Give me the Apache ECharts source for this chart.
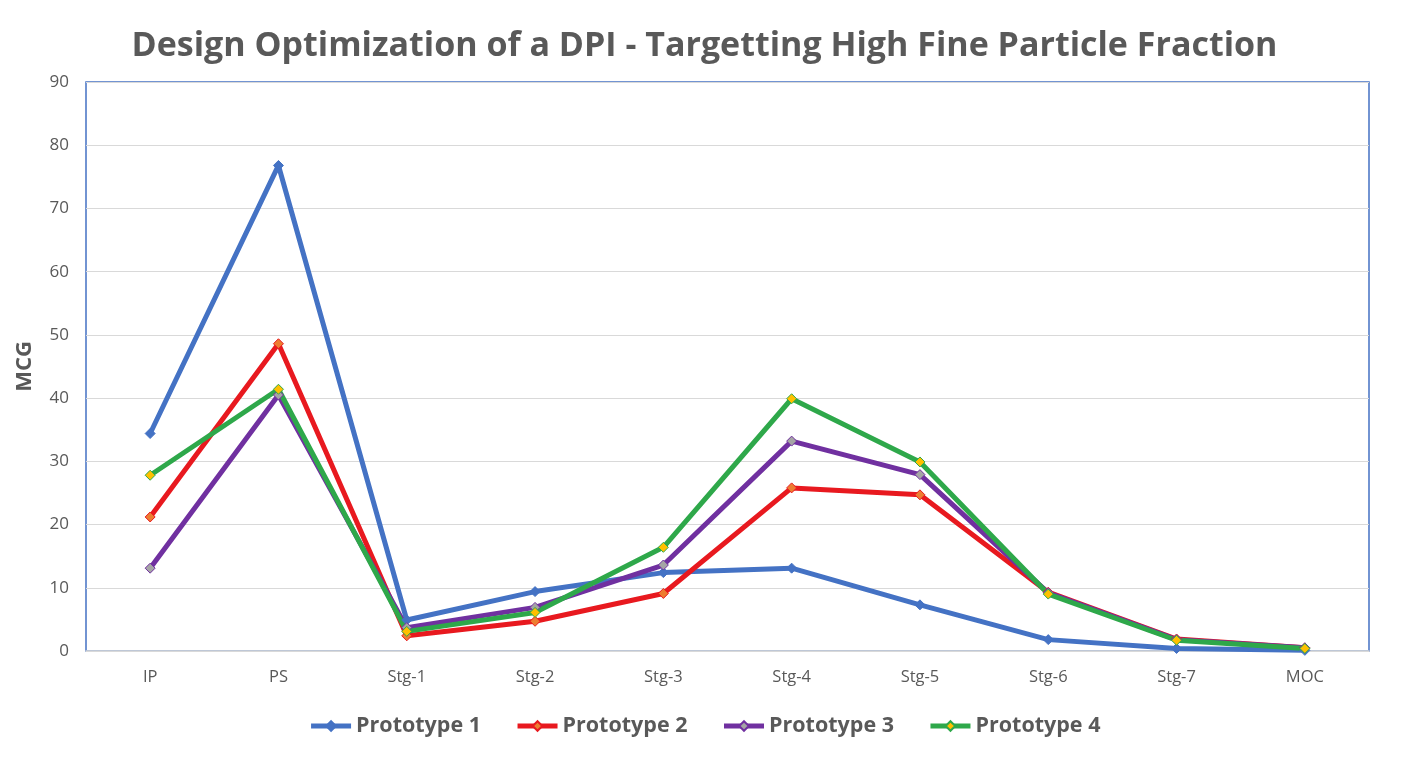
<!DOCTYPE html>
<html><head><meta charset="utf-8">
<script src="https://cdn.jsdelivr.net/npm/echarts@6/dist/echarts.min.js"></script>
<style>html,body{margin:0;padding:0;background:#fff}#c{width:1409px;height:764px}</style>
</head><body><div id="c"></div>
<script>
const categories = ['IP','PS','Stg-1','Stg-2','Stg-3','Stg-4','Stg-5','Stg-6','Stg-7','MOC'];
const prototype1 = [34.4, 76.8, 4.9, 9.4, 12.4, 13.1, 7.3, 1.8, 0.4, 0.1];
const prototype2 = [21.2, 48.6, 2.4, 4.7, 9.1, 25.8, 24.7, 9.3, 1.9, 0.5];
const prototype3 = [13.1, 40.5, 3.7, 6.9, 13.6, 33.2, 27.9, 9.2, 1.8, 0.5];
const prototype4 = [27.8, 41.4, 3.1, 6.1, 16.4, 39.9, 29.9, 9.0, 1.7, 0.4];
const yTicks = {min: 0, max: 90, interval: 10};

const chart = echarts.init(document.getElementById('c'));
function mk(name, data, lineColor, markColor) {
  return {
    name, type: 'line', data,
    symbol: 'diamond', symbolSize: 10,
    lineStyle: {color: lineColor, width: 5},
    itemStyle: {color: markColor, borderColor: lineColor, borderWidth: 1},
    color: lineColor,
    emphasis: {disabled: true}
  };
}
chart.setOption({
  animation: false,
  title: {
    text: 'Design Optimization of a DPI - Targetting High Fine Particle Fraction',
    left: 'center', top: 24,
    textStyle: {fontFamily: 'Open Sans', fontWeight: 'bold', fontSize: 34, color: '#595959'}
  },
  legend: {
    bottom: 22, left: 'center', itemWidth: 40, itemHeight: 12, itemGap: 34,
    lineStyle: {width: 5},
    textStyle: {fontFamily: 'Open Sans', fontWeight: 'bold', fontSize: 21.5, color: '#595959'}
  },
  grid: {left: 86, right: 40, top: 82, bottom: 113, show: true, borderColor: '#4472C4', borderWidth: 1.5},
  xAxis: {
    type: 'category', data: categories, boundaryGap: true,
    axisLine: {lineStyle: {color: '#D9D9D9', width: 1.5}},
    axisTick: {show: false},
    axisLabel: {fontFamily: 'Open Sans', fontSize: 16.5, color: '#595959', margin: 18}
  },
  yAxis: {
    type: 'value', min: yTicks.min, max: yTicks.max, interval: yTicks.interval,
    name: 'MCG', nameLocation: 'middle', nameGap: 50,
    nameTextStyle: {fontFamily: 'Open Sans', fontWeight: 'bold', fontSize: 22, color: '#595959'},
    axisLine: {show: false}, axisTick: {show: false},
    splitLine: {lineStyle: {color: '#D9D9D9', width: 1.2}},
    axisLabel: {fontFamily: 'Open Sans', fontSize: 17, color: '#595959', margin: 17}
  },
  series: [
    mk('Prototype 1', prototype1, '#4472C4', '#4472C4'),
    mk('Prototype 2', prototype2, '#E8191F', '#ED7D31'),
    mk('Prototype 3', prototype3, '#7030A0', '#A5A5A5'),
    mk('Prototype 4', prototype4, '#2EA84A', '#FFC000')
  ]
});
</script></body></html>
